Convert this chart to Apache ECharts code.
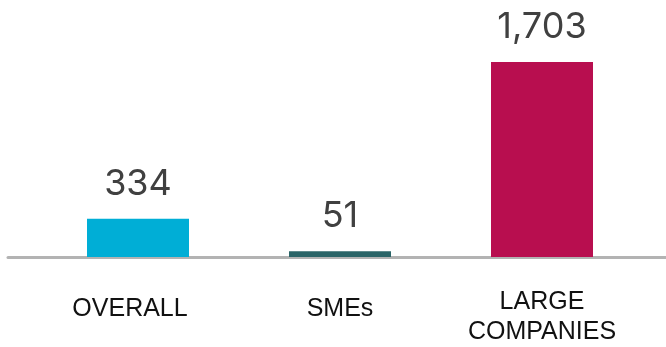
<!DOCTYPE html>
<html>
<head>
<meta charset="utf-8">
<script src="https://cdn.jsdelivr.net/npm/echarts@6/dist/echarts.min.js"></script>
<style>html,body{margin:0;padding:0;background:#fff}#c{width:666px;height:347px}</style>
</head>
<body>
<div id="c"></div>
<script>
const categories = ['OVERALL', 'SMEs', 'LARGE\nCOMPANIES'];
const values = [334, 51, 1703];

const barColors = ['#00AED6', '#2A6467', '#B80E4F'];

const chart = echarts.init(document.getElementById('c'), null, {renderer: 'canvas'});
chart.setOption({
  animation: false,
  grid: [
    {left: 37, right: 23, top: 62, bottom: 90},
    {left: 8, right: 0, top: 62, bottom: 90}
  ],
  xAxis: [
    {
      type: 'category', gridIndex: 0,
      data: categories.map((c, i) => ({
        value: c,
        textStyle: i === 0 ? {padding: [7, 16, 0, 0]} : (c.indexOf('\n') < 0 ? {padding: [7, 0, 0, 0]} : {})
      })),
      axisLine: {show: false}, axisTick: {show: false},
      axisLabel: {
        interval: 0, margin: 30, verticalAlign: 'top',
        fontFamily: 'Liberation Sans', fontSize: 25, lineHeight: 30, color: '#111'
      }
    },
    {
      type: 'value', gridIndex: 1, min: 0, max: 1,
      axisLine: {show: true, lineStyle: {color: '#b3b3b3', width: 3}},
      axisTick: {show: false}, axisLabel: {show: false}, splitLine: {show: false}
    }
  ],
  yAxis: [
    {type: 'value', gridIndex: 0, min: 0, max: 1703, show: false},
    {type: 'value', gridIndex: 1, min: 0, max: 1, show: false}
  ],
  series: [{
    type: 'bar', xAxisIndex: 0, yAxisIndex: 0, z: 3,
    barWidth: 102,
    data: values.map((v, i) => ({value: v, itemStyle: {color: barColors[i]}})),
    label: {
      show: true, position: 'top', distance: 17,
      fontFamily: 'Inter', fontSize: 36, fontWeight: 400, color: '#404040',
      formatter: p => p.value.toLocaleString('en-US')
    }
  }]
});
</script>
</body>
</html>
